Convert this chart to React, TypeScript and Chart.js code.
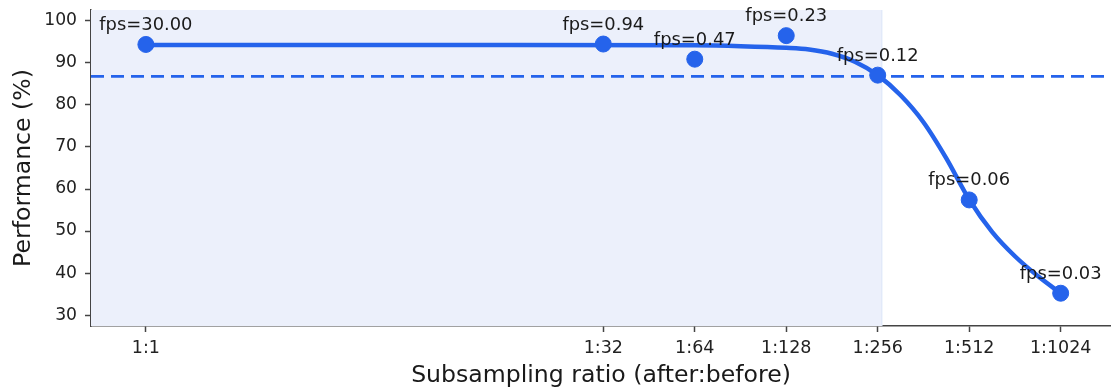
import React, { useEffect, useRef } from "react";
import { Chart, registerables } from "chart.js";

Chart.register(...registerables);

// ---- data ----
const ratios = [1, 32, 64, 128, 256, 512, 1024];
const tickLabels = ["1:1", "1:32", "1:64", "1:128", "1:256", "1:512", "1:1024"];
const performance = [94.4, 94.5, 90.9, 96.5, 87.1, 57.4, 35.2];
const fpsLabels = ["fps=30.00", "fps=0.94", "fps=0.47", "fps=0.23", "fps=0.12", "fps=0.06", "fps=0.03"];

// fitted curve (x given as log2 of the ratio)
const curveLog2 = [0, 2, 4, 6, 6.5, 7, 7.25, 7.5, 7.75, 8, 8.25, 8.5, 8.75, 9, 9.25, 9.5, 9.75, 10];
const curveValues = [94.3, 94.3, 94.3, 94.2, 94.0, 93.6, 93.2, 92.2, 90.3, 87.1, 82.3, 75.9, 67.3, 57.5, 49.8, 44.0, 39.3, 35.2];

const thresholdValue = 86.8;
const shadeEndLog2 = 8.05;
const yTicks = [30, 40, 50, 60, 70, 80, 90, 100];
const xMinLog2 = -0.6;
const xMaxLog2 = 10.55;
const yMin = 27.4;
const yMax = 102.6;

const BLUE = "#2563eb";
const FONT = "'DejaVu Sans', sans-serif";

export default function App() {
  const ref = useRef<HTMLCanvasElement | null>(null);

  useEffect(() => {
    if (!ref.current) return;
    const xMin = Math.pow(2, xMinLog2);
    const xMax = Math.pow(2, xMaxLog2);

    const shadePlugin = {
      id: "shade",
      beforeDatasetsDraw(chart: any) {
        const { ctx, chartArea, scales } = chart;
        const xEnd = scales.x.getPixelForValue(Math.pow(2, shadeEndLog2));
        ctx.save();
        ctx.fillStyle = "#ecf0fb";
        ctx.fillRect(chartArea.left, chartArea.top, xEnd - chartArea.left, chartArea.bottom - chartArea.top);
        ctx.fillStyle = "#dfe6f8";
        ctx.fillRect(xEnd - 1, chartArea.top, 1, chartArea.bottom - chartArea.top);
        ctx.restore();
      },
    };

    const labelPlugin = {
      id: "fpsLabels",
      afterDatasetsDraw(chart: any) {
        const { ctx, scales } = chart;
        ctx.save();
        ctx.font = `17.9px ${FONT}`;
        ctx.fillStyle = "#1a1a1a";
        ctx.textAlign = "center";
        ctx.textBaseline = "alphabetic";
        ratios.forEach((r, i) => {
          const px = scales.x.getPixelForValue(r);
          const py = scales.y.getPixelForValue(performance[i]);
          ctx.fillText(fpsLabels[i], px, py - 14.5);
        });
        ctx.restore();
      },
    };

    const chart = new Chart(ref.current, {
      type: "scatter",
      data: {
        datasets: [
          {
            type: "scatter",
            label: "points",
            data: ratios.map((r, i) => ({ x: r, y: performance[i] })),
            backgroundColor: BLUE,
            borderColor: BLUE,
            pointRadius: 8,
            pointHoverRadius: 8,
            order: 0,
          },
          {
            type: "line",
            label: "fit",
            data: curveLog2.map((e, i) => ({ x: Math.pow(2, e), y: curveValues[i] })),
            borderColor: BLUE,
            borderWidth: 4.5,
            pointRadius: 0,
            cubicInterpolationMode: "monotone",
            fill: false,
            order: 1,
          },
          {
            type: "line",
            label: "threshold",
            data: [
              { x: xMin, y: thresholdValue },
              { x: xMax, y: thresholdValue },
            ],
            borderColor: BLUE,
            borderWidth: 2.8,
            borderDash: [13, 7],
            pointRadius: 0,
            fill: false,
            order: 2,
          },
        ],
      } as any,
      options: {
        animation: false,
        responsive: false,
        maintainAspectRatio: false,
        layout: { autoPadding: false, padding: { top: 10, right: 0, left: 0, bottom: 0 } },
        plugins: {
          legend: { display: false },
          tooltip: { enabled: false },
        },
        scales: {
          x: {
            type: "logarithmic",
            min: xMin,
            max: xMax,
            afterBuildTicks: (scale: any) => {
              scale.ticks = ratios.map((v) => ({ value: v }));
            },
            afterFit: (scale: any) => {
              scale.height = 64;
              scale.paddingLeft = 0;
              scale.paddingRight = 0;
              scale.paddingTop = 0;
              scale.paddingBottom = 0;
            },
            ticks: {
              autoSkip: false,
              maxRotation: 0,
              padding: 6,
              color: "#222",
              font: { family: FONT, size: 17.5 },
              callback: (value: any, index: number) => tickLabels[index],
            },
            grid: {
              display: true,
              drawOnChartArea: false,
              drawTicks: true,
              tickLength: 6,
              tickColor: "#444",
              tickWidth: 1.5,
            },
            border: { display: true, color: "#444", width: 1.5 },
            title: {
              display: true,
              text: "Subsampling ratio (after:before)",
              color: "#1a1a1a",
              font: { family: FONT, size: 23.6 },
              padding: { top: 0, bottom: 0 },
            },
          },
          y: {
            type: "linear",
            min: yMin,
            max: yMax,
            afterBuildTicks: (scale: any) => {
              scale.ticks = yTicks.map((v) => ({ value: v }));
            },
            afterFit: (scale: any) => {
              scale.width = 91;
              scale.paddingLeft = 0;
              scale.paddingRight = 0;
              scale.paddingTop = 0;
              scale.paddingBottom = 0;
            },
            ticks: {
              padding: 8,
              color: "#222",
              font: { family: FONT, size: 17.2 },
              callback: (value: any) => String(value),
            },
            grid: {
              display: true,
              drawOnChartArea: false,
              drawTicks: true,
              tickLength: 6,
              tickColor: "#444",
              tickWidth: 1.5,
            },
            border: { display: true, color: "#444", width: 1.5 },
            title: {
              display: true,
              text: "Performance (%)",
              color: "#1a1a1a",
              font: { family: FONT, size: 23.6 },
              padding: { top: 9.5, bottom: 0 },
            },
          },
        },
      } as any,
      plugins: [shadePlugin, labelPlugin],
    });

    return () => chart.destroy();
  }, []);

  return (
    <div style={{ position: "fixed", left: 0, top: 0, width: 1111, height: 390, background: "#fff" }}>
      <canvas ref={ref} width={1111} height={390} style={{ display: "block", width: 1111, height: 390 }} />
    </div>
  );
}
